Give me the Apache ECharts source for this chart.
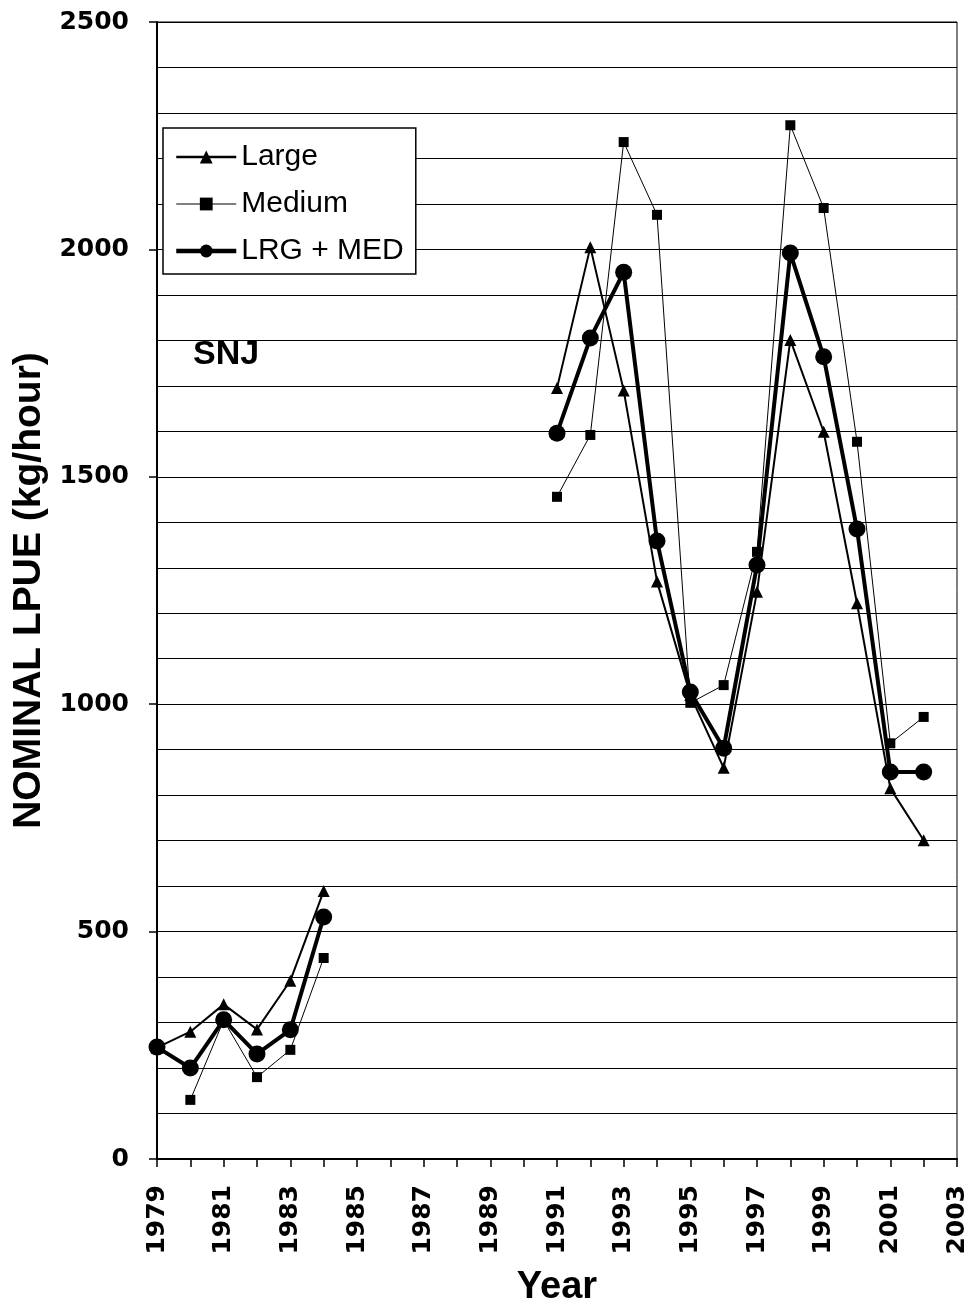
<!DOCTYPE html>
<html>
<head>
<meta charset="utf-8">
<script src="https://cdn.jsdelivr.net/npm/echarts@6/dist/echarts.min.js"></script>
<style>
html,body{margin:0;padding:0;background:#fff;}
#chart{width:972px;height:1310px;}
</style>
</head>
<body>
<div id="chart"></div>
<script>
const years = ['1979','1980','1981','1982','1983','1984','1985','1986','1987','1988','1989','1990','1991','1992','1993','1994','1995','1996','1997','1998','1999','2000','2001','2002','2003'];
const large = [245, 280, 340, 285, 392, 589, null, null, null, null, null, null, 1695, 2005, 1690, 1270, 1020, 860, 1247, 1801, 1599, 1222, 815, 701, null];
const medium = [null, 130, 305, 180, 240, 442, null, null, null, null, null, null, 1456, 1592, 2236, 2076, 1003, 1042, 1335, 2273, 2091, 1577, 914, 972, null];
const combined = [246, 200, 306, 231, 284, 532, null, null, null, null, null, null, 1596, 1805, 1950, 1359, 1027, 903, 1306, 1992, 1764, 1385, 851, 851, null];
const yTicks = [0, 500, 1000, 1500, 2000, 2500];

const chart = echarts.init(document.getElementById('chart'));
const tickFont = {fontFamily: 'DejaVu Sans', fontWeight: 'bold', fontSize: 25, color: '#000'};
chart.setOption({
  animation: false,
  backgroundColor: '#fff',
  grid: {left: 157, right: 15, top: 22, bottom: 151, show: true, borderColor: '#000', borderWidth: 1,
         containLabel: false, outerBoundsMode: 'none'},
  legend: {
    orient: 'vertical', left: 163, top: 128,
    padding: [14, 12, 8, 11], itemGap: 17, itemWidth: 60, itemHeight: 16,
    backgroundColor: '#fff', borderColor: '#000', borderWidth: 1.5,
    textStyle: {fontFamily: 'Liberation Sans', fontSize: 30, color: '#000'},
    data: [
      {name: 'Large', lineStyle: {width: 2.5}, itemStyle: {color: '#000'}},
      {name: 'Medium', lineStyle: {width: 1}, itemStyle: {color: '#000'}},
      {name: 'LRG + MED', lineStyle: {width: 4.5}, itemStyle: {color: '#000'}}
    ]
  },
  graphic: [{type: 'text', left: 193, top: 338, style: {text: 'SNJ', fontFamily: 'Liberation Sans', fontWeight: 'bold', fontSize: 34, fill: '#000'}}],
  xAxis: {
    type: 'category', data: years, boundaryGap: false,
    name: 'Year', nameLocation: 'middle', nameGap: 110,
    nameTextStyle: {fontFamily: 'Liberation Sans', fontWeight: 'bold', fontSize: 38, color: '#000'},
    axisLine: {lineStyle: {color: '#000', width: 2}},
    axisTick: {interval: 0, length: 8, lineStyle: {color: '#000', width: 1.5}},
    axisLabel: Object.assign({interval: 1, rotate: 90, margin: 26}, tickFont),
    splitLine: {show: false}
  },
  yAxis: {
    type: 'value', min: yTicks[0], max: yTicks[yTicks.length - 1], interval: 500,
    name: 'NOMINAL LPUE (kg/hour)', nameLocation: 'middle', nameGap: 108,
    nameTextStyle: {fontFamily: 'Liberation Sans', fontWeight: 'bold', fontSize: 39, color: '#000'},
    axisLine: {show: true, lineStyle: {color: '#000', width: 2}},
    axisTick: {show: true, length: 8, lineStyle: {color: '#000', width: 1.5}},
    axisLabel: Object.assign({margin: 28, formatter: function (v) { return String(v); }}, tickFont),
    splitLine: {show: true, lineStyle: {color: '#000', width: 1}},
    minorTick: {show: false, splitNumber: 5},
    minorSplitLine: {show: true, lineStyle: {color: '#000', width: 1}}
  },
  series: [
    {name: 'Large', type: 'line', data: large, symbol: 'triangle', symbolSize: 12,
     lineStyle: {color: '#000', width: 2}, itemStyle: {color: '#000'}, z: 3},
    {name: 'Medium', type: 'line', data: medium, symbol: 'rect', symbolSize: 10,
     lineStyle: {color: '#000', width: 1}, itemStyle: {color: '#000'}, z: 2},
    {name: 'LRG + MED', type: 'line', data: combined, symbol: 'circle', symbolSize: 17,
     lineStyle: {color: '#000', width: 4}, itemStyle: {color: '#000'}, z: 4}
  ]
});
</script>
</body>
</html>
